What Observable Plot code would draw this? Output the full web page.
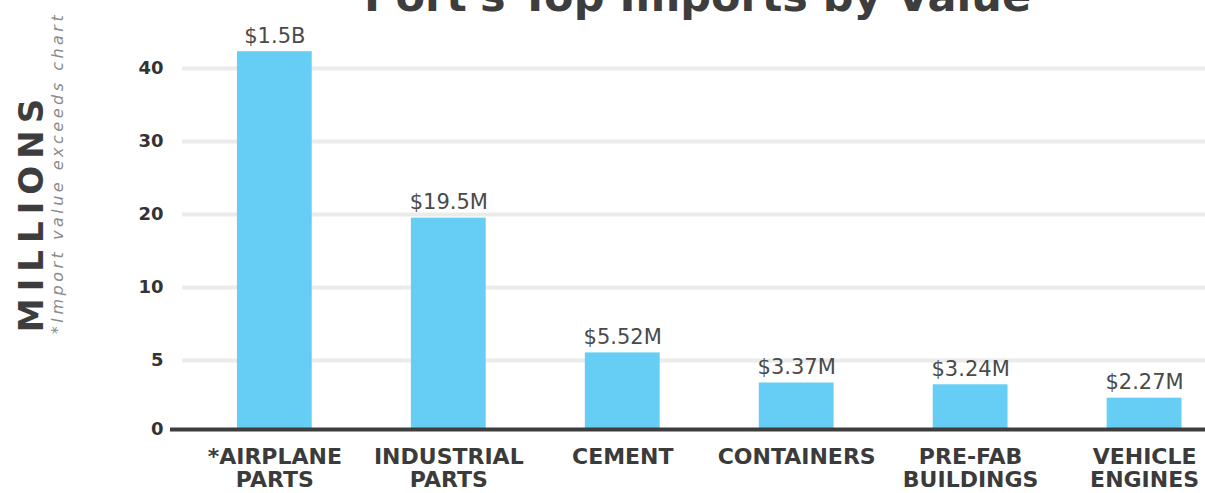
<!DOCTYPE html>
<html>
<head>
<meta charset="utf-8">
<script src="https://cdn.jsdelivr.net/npm/d3@7"></script>
<script src="https://cdn.jsdelivr.net/npm/@observablehq/plot@0.6"></script>
<style>
  html, body { margin: 0; padding: 0; background: #ffffff; overflow: hidden; }
  #chart svg { display: block; }
</style>
</head>
<body>
<div id="chart"></div>
<script>
// ---- data ----
const categories = ["*AIRPLANE\nPARTS", "INDUSTRIAL\nPARTS", "CEMENT", "CONTAINERS", "PRE-FAB\nBUILDINGS", "VEHICLE\nENGINES"];
// bar heights in millions (airplane bar is capped at the top of the chart)
const barValues = [42.3, 19.5, 5.52, 3.37, 3.24, 2.27];
const valueLabels = ["$1.5B", "$19.5M", "$5.52M", "$3.37M", "$3.24M", "$2.27M"];
const yTicks = [0, 5, 10, 20, 30, 40];
const gridTicks = [5, 10, 20, 30, 40];
const titleText = "Port's Top Imports by Value";
const yLabel = "MILLIONS";
const noteText = "*Import value exceeds chart";

const rows = categories.map((c, i) => ({category: c, value: barValues[i], label: valueLabels[i]}));

const plot = Plot.plot({
  width: 1205,
  height: 493,
  marginLeft: 170,
  marginRight: 0,
  marginTop: 10,
  marginBottom: 64,
  style: {fontFamily: "DejaVu Sans", background: "#ffffff", overflow: "visible"},
  x: {type: "band", domain: categories, paddingInner: 0.57, paddingOuter: 0.26, align: 0.74, round: false, label: null},
  y: {type: "linear", domain: yTicks, range: [429, 360, 287, 214, 141, 68], label: null},
  marks: [
    Plot.ruleY(gridTicks, {y: d => d, stroke: "#ebebeb", strokeWidth: 4, insetLeft: 12}),
    Plot.barY(rows, {x: "category", y1: 0, y2: "value", fill: "#66cdf5"}),
    Plot.ruleY([0], {stroke: "#3d3d3d", strokeWidth: 4}),
    Plot.text(rows, {x: "category", y: "value", text: "label", lineAnchor: "bottom", dy: -9,
      fontSize: 21, fill: "#4a4a4a"}),
    Plot.axisY(yTicks, {tickSize: 0, tickPadding: 7, fontSize: 18, fontWeight: "bold", fill: "#333333", label: null}),
    Plot.axisX({tickSize: 0, tickPadding: 18, fontSize: 22, fontWeight: "bold", fill: "#3b3b3b", lineHeight: 1.05, label: null}),
    Plot.text([titleText], {text: d => d, frameAnchor: "top", lineAnchor: "bottom", dx: 9.5, dy: 0,
      fontSize: 43, fontWeight: "bold", fill: "#3d3d3d"}),
    Plot.text([yLabel], {text: d => d, frameAnchor: "left", textAnchor: "middle", rotate: -90, lineAnchor: "bottom",
      dx: -128, dy: -8,
      fontSize: 34, fontWeight: "bold", fill: "#3d3d3d"}),
    Plot.text([noteText], {text: d => d, frameAnchor: "left", textAnchor: "middle", rotate: -90, lineAnchor: "bottom",
      dx: -108, dy: -47,
      fontSize: 16, fontStyle: "italic", fill: "#8a8a8a"})
  ]
});

d3.select(plot).selectAll("text").each(function() {
  const t = this.textContent;
  if (t === yLabel) d3.select(this).attr("letter-spacing", "7px");
  if (t === noteText) d3.select(this).attr("letter-spacing", "3.5px");
});

document.getElementById("chart").appendChild(plot);
</script>
</body>
</html>
